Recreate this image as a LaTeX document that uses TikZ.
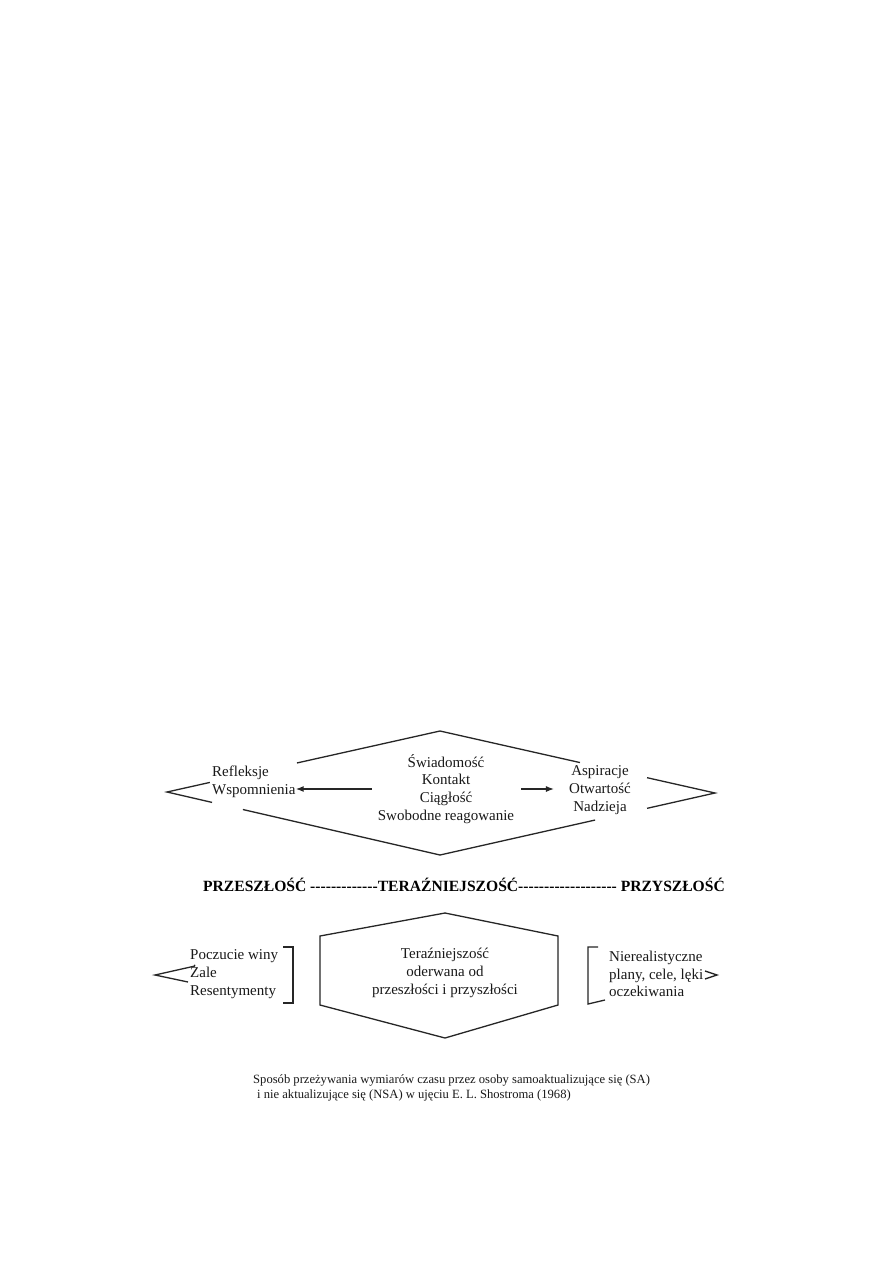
\documentclass[tikz,border=0pt]{standalone}
\usepackage{fontspec}
\setmainfont{Liberation Serif}
\newfontfamily\osfont{Liberation Serif}
\usetikzlibrary{arrows.meta, calc}

\begin{document}
\begin{tikzpicture}[x=1pt, y=-1pt,
  ln/.style={line width=1.3pt, black!85},
  arr/.style={ln, -{Latex[length=8pt,width=6pt]}},
  txt/.style={inner sep=0pt, black!90, font=\fontsize{15}{17.8}\selectfont},
  small/.style={inner sep=0pt, black!90, font=\fontsize{12.6}{15}\selectfont}]
\useasboundingbox (0,0) rectangle (893,1263);
\fill[white] (0,0) rectangle (893,1263);
% top diamond
\coordinate (L) at (167,792);
\coordinate (T) at (440,731);
\coordinate (R) at (715,793);
\coordinate (B) at (440,855);
\draw[ln] (T) -- ($(T)!0.524!(L)$);
\draw[ln] ($(L)!0.157!(T)$) -- (L) -- ($(L)!0.165!(B)$);
\draw[ln] ($(L)!0.278!(B)$) -- (B) -- ($(B)!0.564!(R)$);
\draw[ln] ($(B)!0.753!(R)$) -- (R) -- ($(T)!0.753!(R)$);
\draw[ln] ($(T)!0.509!(R)$) -- (T);
\node[txt, align=left, anchor=west] (refl) at (212,782) {Refleksje\\Wspomnienia};
\node[txt, align=center] (swiad) at (446,789) {Świadomość\\Kontakt\\Ciągłość\\Swobodne reagowanie};
\node[txt, align=center] (aspir) at (600,790) {Aspiracje\\Otwartość\\Nadzieja};
\draw[arr] ([xshift=-6pt]swiad.west) -- (swiad.west -| refl.east);
\draw[arr] ([xshift=7pt]swiad.east) -- ([xshift=-15pt]swiad.east -| aspir.west);
% time axis
\node[inner sep=0pt, black, font=\osfont\bfseries\fontsize{15.6}{18}\selectfont] (os) at (464,885)
  {PRZESZŁOŚĆ -------------TERAŹNIEJSZOŚĆ------------------- PRZYSZŁOŚĆ};
% bottom part
\draw[ln] (320,936) -- (445,913) -- (558,936) -- (558,1005) -- (445,1038) -- (320,1005) -- cycle;
\node[txt, align=center] (teraz) at (445,973) {Teraźniejszość\\oderwana od\\przeszłości i przyszłości};
\node[txt, align=left, anchor=west] (wina) at (190,974) {Poczucie winy\\Żale\\Resentymenty};
\node[txt, align=left, anchor=west] (plany) at (609,974) {Nierealistyczne\\plany, cele, lęki\\oczekiwania};
\draw[ln] (283,947) -- (293,947) -- (293,1003) -- (283,1003);
\draw[ln] (598,947) -- (588,947) -- (588,1004) -- (605,1000);
\draw[ln] (195,966) -- (155,975) -- (188,982);
\draw[ln] (705,971) -- (717,975) -- (705,979);
% caption
\node[small, align=left, anchor=west] (podpis) at (253,1088)
  {Sposób przeżywania wymiarów czasu przez osoby samoaktualizujące się (SA)\\
   \hspace{4pt}i nie aktualizujące się (NSA) w ujęciu E. L. Shostroma (1968)};
\end{tikzpicture}
\end{document}
